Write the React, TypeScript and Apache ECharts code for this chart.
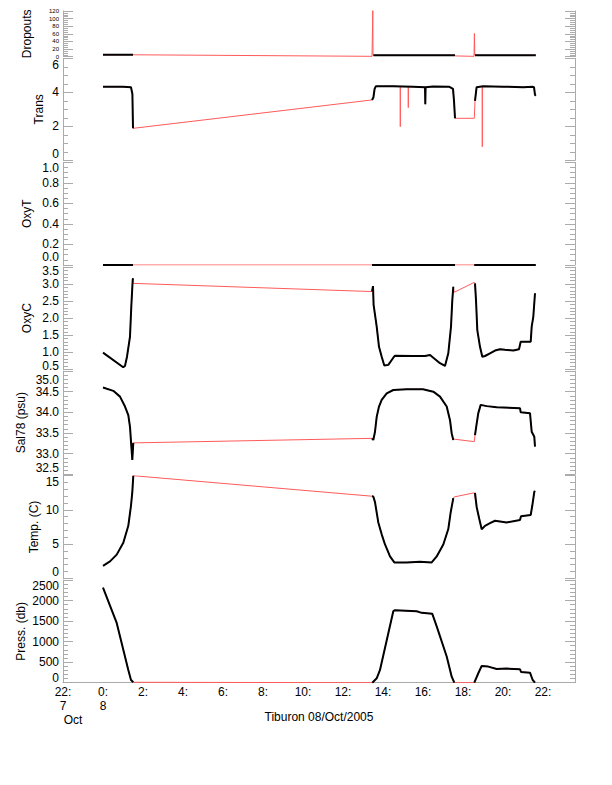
import React, { useEffect, useRef } from 'react';
import * as echarts from 'echarts';

// ---- X axis (hours relative to 08/Oct/2005 0:00) ----
const X_MIN = -2;
const X_MAX = 23.6;
const X_INTERVAL = 2;
const X_TITLE = 'Tiburon 08/Oct/2005';

// ---- Panel names and y scales ----
const panelNames = ['Dropouts', 'Trans', 'OxyT', 'OxyC', 'Sal78 (psu)', 'Temp. (C)', 'Press. (db)'];
const yMins = [0, 0, 0, 0.5, 32.5, 0, 0];
const yMaxs = [120, 6, 1, 3.5, 35, 15, 2500];
const yIntervals = [20, 2, 0.2, 0.5, 0.5, 5, 500];
const yMinorSplits = [4, 4, 4, 5, 5, 5, 5];
const yDecimals = [0, 0, 1, 1, 1, 0, 0];

// ---- Data: [hour, value]; A/B/C are the measured segments, gap/spike points only on the red trace ----
const dropA = [[0, 5], [1.5, 5]];
const dropB = [[13.52, 4], [17.6, 4]];
const dropC = [[18.6, 4], [21.64, 4]];
const dropGap = [[1.52, 4], [13.45, 1], [13.49, 122], [13.5, 4], [17.62, 2], [18.55, 1], [18.57, 61], [18.59, 4]];

const transA = [[0, 4.33], [1.0, 4.32], [1.4, 4.3], [1.47, 3.9], [1.5, 1.88]];
const transB = [[13.45, 3.55], [13.52, 3.7], [13.58, 4.2], [13.64, 4.35], [14.5, 4.36], [15.5, 4.33], [16.1, 4.3], [16.115, 3.3], [16.13, 4.3], [16.5, 4.34], [17.3, 4.33], [17.5, 4.2], [17.55, 3.5], [17.6, 2.47]];
const transC = [[18.6, 3.5], [18.68, 4.3], [19.0, 4.35], [20.0, 4.33], [21.0, 4.3], [21.5, 4.32], [21.55, 4.3], [21.6, 3.85], [21.64, 3.8]];
const transGap = [[18.565, 2.47]];
const transSpikes = [[14.86, 4.34], [14.865, 1.98], [14.87, 4.34], [15.26, 4.34], [15.265, 3.1], [15.27, 4.34], [18.96, 4.35], [18.965, 0.8], [18.97, 4.35]];

const oxytA = [[0, 0], [1.5, 0]];
const oxytB = [[13.45, 0], [17.6, 0]];
const oxytC = [[18.56, 0], [21.64, 0]];
const oxytGap: number[][] = [];

const oxycA = [[0, 0.99], [1.01, 0.56], [1.1, 0.6], [1.2, 0.87], [1.35, 1.46], [1.415, 2.34], [1.485, 3.12], [1.5, 3.17]];
const oxycB = [[13.45, 2.78], [13.5, 2.94], [13.53, 2.39], [13.685, 1.75], [13.8, 1.16], [13.935, 0.87], [14.065, 0.61], [14.265, 0.63], [14.515, 0.84], [14.6, 0.9], [15.5, 0.89], [16.1, 0.89], [16.35, 0.92], [16.515, 0.84], [16.85, 0.68], [17.1, 0.6], [17.265, 0.97], [17.4, 1.75], [17.465, 2.53], [17.515, 2.92]];
const oxycC = [[18.6, 3.02], [18.65, 2.53], [18.715, 1.65], [18.85, 1.16], [18.965, 0.87], [19.1, 0.89], [19.35, 0.97], [19.6, 1.05], [19.85, 1.09], [20.1, 1.07], [20.515, 1.05], [20.8, 1.09], [20.885, 1.31], [21.385, 1.31], [21.435, 1.75], [21.515, 2.04], [21.6, 2.73]];
const oxycGap = [[1.51, 3.02], [17.565, 2.76], [18.565, 3.05]];

const salA = [[0, 34.6], [0.515, 34.52], [0.85, 34.38], [1.1, 34.14], [1.265, 33.93], [1.35, 33.65], [1.4, 33.29], [1.465, 32.85], [1.515, 33.26]];
const salB = [[13.45, 33.37], [13.515, 33.33], [13.6, 33.53], [13.685, 33.89], [13.8, 34.14], [13.935, 34.3], [14.185, 34.46], [14.515, 34.54], [15.185, 34.56], [16.0, 34.56], [16.515, 34.5], [16.85, 34.38], [17.185, 34.14], [17.35, 33.81], [17.435, 33.49], [17.515, 33.33]];
const salC = [[18.6, 33.45], [18.685, 33.73], [18.765, 33.98], [18.885, 34.18], [19.185, 34.15], [19.685, 34.12], [20.85, 34.1], [20.885, 34.0], [21.35, 33.98], [21.435, 33.53], [21.565, 33.41], [21.6, 33.17]];
const salGap = [[17.565, 33.35], [18.565, 33.29]];

const tempA = [[0, 1.83], [0.35, 2.47], [0.685, 3.46], [1.015, 5.2], [1.265, 7.67], [1.4, 10.64], [1.465, 12.6], [1.515, 15.0]];
const tempB = [[13.45, 12.0], [13.515, 11.97], [13.6, 11.14], [13.765, 8.17], [13.935, 6.43], [14.1, 4.95], [14.35, 3.2], [14.565, 2.32], [15.185, 2.32], [15.85, 2.42], [16.435, 2.32], [16.685, 3.2], [17.015, 4.95], [17.265, 7.2], [17.385, 9.66], [17.515, 11.73]];
const tempC = [[18.6, 12.5], [18.685, 10.4], [18.815, 8.66], [18.935, 7.18], [19.1, 7.67], [19.35, 8.07], [19.6, 8.41], [19.85, 8.32], [20.185, 8.17], [20.85, 8.51], [20.9, 9.06], [21.385, 9.26], [21.465, 10.64], [21.565, 12.63], [21.6, 12.78]];
const tempGap = [[17.565, 11.9], [18.565, 12.5]];

const pressA = [[0, 2313], [0.685, 1455], [1.265, 311], [1.4, 66], [1.515, 10]];
const pressB = [[13.465, 0], [13.685, 107], [13.85, 311], [14.515, 1740], [14.6, 1764], [15.685, 1740], [15.935, 1700], [16.465, 1676], [16.685, 1372], [17.185, 637], [17.435, 147], [17.565, 0]];
const pressC = [[18.565, 0], [18.765, 230], [18.935, 409], [19.265, 392], [19.685, 335], [20.185, 343], [20.85, 328], [20.9, 262], [21.35, 245], [21.485, 66], [21.6, 0]];
const pressGap: number[][] = [];

const segmentsByPanel = [
  [dropA, dropB, dropC],
  [transA, transB, transC],
  [oxytA, oxytB, oxytC],
  [oxycA, oxycB, oxycC],
  [salA, salB, salC],
  [tempA, tempB, tempC],
  [pressA, pressB, pressC],
];
const redExtrasByPanel = [dropGap, [...transGap, ...transSpikes], oxytGap, oxycGap, salGap, tempGap, pressGap];

// ---- Layout (pixels) ----
const GRID_LEFT = 63;
const GRID_WIDTH = 512;
const panelTops = [11, 58.3, 162.3, 267, 371, 475.7, 580];
const panelHeights = [45.7, 102, 102.7, 102.3, 103.3, 102.6, 102.7];
const nameGaps = [30, 18, 30, 30, 36, 23, 36];
const labelFontSizes = [6, 12, 12, 12, 12, 12, 12];
const labelLineHeights = [6, 10, 10, 12, 10, 10, 10];
// inward shift (px) of the top / bottom tick labels of each panel
const topLabelShift = [0, 7, 6, 3.5, 8.5, 6, 6];
const bottomLabelShift = [0, 6, 8.5, 3.5, 6, 6, 5];

const AXIS_GRAY = '#ababab';
const FONT = 'Liberation Sans, Arial, Helvetica, sans-serif';
const RED = '#ff5a5a';

function buildOption() {
  const grid: any[] = [];
  const xAxis: any[] = [];
  const yAxis: any[] = [];
  const series: any[] = [];
  const last = panelNames.length - 1;

  panelNames.forEach((name, i) => {
    grid.push({
      left: GRID_LEFT,
      top: panelTops[i],
      width: GRID_WIDTH,
      height: panelHeights[i],
      containLabel: false,
      outerBoundsMode: 'none',
    });

    const isBottom = i === last;
    xAxis.push({
      type: 'value',
      gridIndex: i,
      min: X_MIN,
      max: X_MAX,
      interval: X_INTERVAL,
      show: isBottom,
      axisLine: { show: true, onZero: false, lineStyle: { color: AXIS_GRAY, width: 1 } },
      axisTick: { show: false },
      splitLine: { show: false },
      minorTick: { show: false },
      axisLabel: {
        show: isBottom,
        margin: 2,
        color: '#000',
        fontFamily: FONT,
        fontSize: 12,
        lineHeight: 14,
        showMaxLabel: false,
        showMinLabel: true,
        hideOverlap: false,
        formatter: (v: number) => {
          if (Math.abs(v - X_MIN) < 1e-6) return '22:\n7\n{o|Oct}';
          if (Math.abs(v) < 1e-6) return '0:\n8';
          const h = Math.round(v < 0 ? v + 24 : v);
          return h + ':';
        },
        rich: {
          o: { padding: [0, 0, 0, 20], fontFamily: FONT, fontSize: 12, lineHeight: 14, color: '#000' },
        },
      },
      name: isBottom ? X_TITLE : '',
      nameLocation: 'middle',
      nameGap: 28,
      nameMoveOverlap: false,
      nameTextStyle: { color: '#000', fontFamily: FONT, fontSize: 12 },
    });

    const fs = labelFontSizes[i];
    const lh = labelLineHeights[i];
    const common = {
      type: 'value',
      gridIndex: i,
      min: yMins[i],
      max: yMaxs[i],
      interval: yIntervals[i],
      axisLine: { show: true, onZero: false, lineStyle: { color: AXIS_GRAY, width: 1 } },
      axisTick: { show: true, inside: true, length: 10, lineStyle: { color: AXIS_GRAY, width: 1 } },
      minorTick: { show: true, splitNumber: yMinorSplits[i], length: 5, lineStyle: { color: AXIS_GRAY, width: 1 } },
      splitLine: { show: false },
      minorSplitLine: { show: false },
    };
    const labelCfg: any = {
      show: true,
      margin: 4,
      color: '#000',
      fontFamily: FONT,
      fontSize: fs,
      lineHeight: lh,
      showMinLabel: true,
      showMaxLabel: true,
      hideOverlap: false,
      formatter: (v: number) => {
        const s = v.toFixed(yDecimals[i]);
        if (topLabelShift[i] > 0 && Math.abs(v - yMaxs[i]) < 1e-9) return '{t|' + s + '}';
        if (bottomLabelShift[i] > 0 && Math.abs(v - yMins[i]) < 1e-9) return '{b|' + s + '}';
        return s;
      },
      rich: {
        t: { padding: [2 * topLabelShift[i], 0, 0, 0], fontFamily: FONT, fontSize: fs, lineHeight: lh, color: '#000' },
        b: { padding: [0, 0, 2 * bottomLabelShift[i], 0], fontFamily: FONT, fontSize: fs, lineHeight: lh, color: '#000' },
      },
    };
    yAxis.push({
      ...common,
      position: 'left',
      name,
      nameLocation: 'middle',
      nameGap: nameGaps[i],
      nameRotate: 90,
      nameMoveOverlap: false,
      nameTextStyle: { color: '#000', fontFamily: FONT, fontSize: 12 },
      axisLabel: labelCfg,
    });
    yAxis.push({
      ...common,
      position: 'right',
      axisLabel: { show: false },
    });

    const segs = segmentsByPanel[i];
    const red = [...segs[0], ...segs[1], ...segs[2], ...redExtrasByPanel[i]]
      .slice()
      .sort((a, b) => a[0] - b[0]);
    series.push({
      type: 'line',
      xAxisIndex: i,
      yAxisIndex: 2 * i,
      data: red,
      showSymbol: false,
      symbol: 'none',
      silent: true,
      z: 2,
      lineStyle: { color: RED, width: 1 },
    });
    segs.forEach((seg) => {
      series.push({
        type: 'line',
        xAxisIndex: i,
        yAxisIndex: 2 * i,
        data: seg,
        showSymbol: false,
        symbol: 'none',
        silent: true,
        z: 3,
        lineStyle: { color: '#000', width: 2 },
      });
    });
  });

  return {
    animation: false,
    backgroundColor: '#ffffff',
    grid,
    xAxis,
    yAxis,
    series,
  };
}

export default function App() {
  const ref = useRef<HTMLDivElement>(null);
  useEffect(() => {
    if (!ref.current) return;
    const chart = echarts.init(ref.current, null, { renderer: 'svg' });
    chart.setOption(buildOption() as any);
    return () => chart.dispose();
  }, []);
  return (
    <div
      ref={ref}
      style={{ position: 'absolute', left: 0, top: 0, width: 612, height: 785, background: '#fff' }}
    />
  );
}
